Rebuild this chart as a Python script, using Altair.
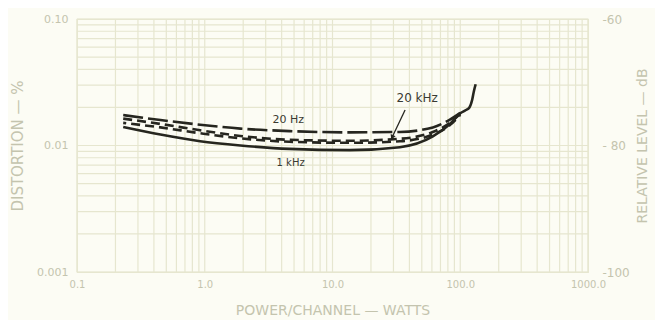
import altair as alt
import pandas as pd

# ---- data ----
power = [0.23, 0.45, 0.92, 1.9, 4.6, 13.7, 33.7, 61, 83, 100]
dist_20hz = [0.0174, 0.0159, 0.0146, 0.0136, 0.0130, 0.0127, 0.0128, 0.0139, 0.0160, 0.0181]
dist_20khz_a = [0.0163, 0.0148, 0.0132, 0.0119, 0.0111, 0.0109, 0.0113, 0.0128, 0.0151, 0.0178]
dist_20khz_b = [0.0151, 0.0139, 0.0125, 0.0114, 0.0107, 0.0105, 0.0108, 0.0122, 0.0145, 0.0175]
power_1khz = [0.23, 0.45, 0.92, 1.9, 4.6, 13.7, 33.7, 61, 83, 100, 110, 118, 124, 128, 132]
dist_1khz = [0.0140, 0.0122, 0.0108, 0.0100, 0.0094, 0.0092, 0.0097, 0.0118, 0.0148, 0.0180,
             0.0190, 0.0200, 0.0230, 0.0270, 0.0305]

x_grid = [0.1, 0.2, 0.3, 0.4, 0.5, 0.6, 0.7, 0.8, 0.9,
          1, 2, 3, 4, 5, 6, 7, 8, 9,
          10, 20, 30, 40, 50, 60, 70, 80, 90,
          100, 200, 300, 400, 500, 600, 700, 800, 900, 1000]
y_grid = [0.001, 0.002, 0.003, 0.004, 0.005, 0.006, 0.007, 0.008, 0.009,
          0.01, 0.02, 0.03, 0.04, 0.05, 0.06, 0.07, 0.08, 0.09, 0.1]
x_ticks = [0.1, 1, 10, 100, 1000]
y_ticks = [0.001, 0.01, 0.1]

label_text = ["20 Hz", "20 kHz", "1 kHz"]
label_x = [4.5, 46.0, 4.7]
label_y = [0.0159, 0.0237, 0.0073]
label_size = [11, 12, 10]

arrow_x = [37.0]
arrow_y = [0.0191]
arrow_x2 = [29.3]
arrow_y2 = [0.0116]

BG = "#fcfcf4"
GRID = "#e6e6cf"
TXT = "#c4c4ae"
INK = "#26261f"
FONT = "DejaVu Sans"

xs = alt.Scale(type="log", domain=[0.1, 1000], nice=False)
ys = alt.Scale(type="log", domain=[0.001, 0.1], nice=False)

x_axis = alt.Axis(values=x_ticks, format=".1f", grid=False, ticks=False, domain=False,
                  labelFlush=False,
                  labelColor=TXT, labelFont=FONT, labelFontSize=10, labelFontWeight="normal",
                  labelPadding=7, title="POWER/CHANNEL — WATTS", titleColor=TXT, titleFont=FONT,
                  titleFontSize=14, titleFontWeight="normal", titlePadding=14)
y_left = alt.Axis(orient="left", values=y_ticks, grid=False, ticks=False, domain=False,
                  labelExpr="datum.value >= 0.09 ? '0.10' : datum.value >= 0.009 ? '0.01' : '0.001'",
                  labelColor=TXT, labelFont=FONT, labelFontSize=11, labelFontWeight="normal",
                  labelPadding=9, title="DISTORTION — %", titleColor=TXT, titleFont=FONT,
                  titleFontSize=15, titleFontWeight="normal", titlePadding=11)
y_right = alt.Axis(orient="right", values=y_ticks, grid=False, ticks=False, domain=False,
                   labelExpr="datum.value >= 0.09 ? '-60' : datum.value >= 0.009 ? '- 80' : '-100'",
                   labelColor=TXT, labelFont=FONT, labelFontSize=12, labelFontWeight="normal",
                   labelPadding=14, title="RELATIVE LEVEL — dB", titleColor=TXT, titleFont=FONT,
                   titleFontSize=14, titleFontWeight="normal", titlePadding=20, titleAngle=270)

rows = []
for name, vals in [("20 Hz", dist_20hz), ("20 kHz A", dist_20khz_a), ("20 kHz B", dist_20khz_b)]:
    for p, d in zip(power, vals):
        rows.append({"series": name, "power": p, "dist": d})
for p, d in zip(power_1khz, dist_1khz):
    rows.append({"series": "1 kHz", "power": p, "dist": d})
curves = pd.DataFrame(rows)

xg = pd.DataFrame({"v": x_grid})
yg = pd.DataFrame({"v": y_grid})


def X(field):
    return alt.X(field, type="quantitative", scale=xs, axis=x_axis)


def Y(field):
    return alt.Y(field, type="quantitative", scale=ys, axis=y_left)


vgrid = alt.Chart(xg).mark_rule(color=GRID, strokeWidth=1.2).encode(x=X("v"))
hgrid = alt.Chart(yg).mark_rule(color=GRID, strokeWidth=1.2).encode(y=Y("v"))

base = alt.Chart(curves).encode(x=X("power"), y=Y("dist"))
l_20hz = base.transform_filter(alt.datum.series == "20 Hz").mark_line(
    color=INK, strokeWidth=2.6, strokeDash=[20, 5], interpolate="monotone")
l_a = base.transform_filter(alt.datum.series == "20 kHz A").mark_line(
    color=INK, strokeWidth=2.6, strokeDash=[9, 5], interpolate="monotone")
l_b = base.transform_filter(alt.datum.series == "20 kHz B").mark_line(
    color=INK, strokeWidth=2.6, strokeDash=[9, 5], strokeDashOffset=6, interpolate="monotone")
l_1k = base.transform_filter(alt.datum.series == "1 kHz").mark_line(
    color=INK, strokeWidth=2.6, interpolate="monotone")

labels = pd.DataFrame({"t": label_text, "x": label_x, "y": label_y, "s": label_size})
txt = alt.Chart(labels).mark_text(color="#3a3a32", font=FONT).encode(
    x=X("x"), y=Y("y"),
    text="t:N",
    size=alt.Size("s:Q", scale=None, legend=None),
)

arr = pd.DataFrame({"x": arrow_x, "y": arrow_y, "x2": arrow_x2, "y2": arrow_y2})
arrow_line = alt.Chart(arr).mark_rule(color=INK, strokeWidth=1.3).encode(
    x=X("x"), y=Y("y"), x2="x2:Q", y2="y2:Q",
)
arrow_head = alt.Chart(arr).mark_point(shape="triangle-up", filled=True, color=INK, size=30,
                                       opacity=1, angle=205).encode(
    x=X("x2"), y=Y("y2"),
)

main = alt.layer(vgrid, hgrid, l_20hz, l_a, l_b, l_1k, txt, arrow_line, arrow_head)

right = alt.Chart(yg).mark_rule(color=GRID, strokeWidth=1.2, opacity=0).encode(
    x=X("v"),
    y=alt.Y("v:Q", scale=ys, axis=y_right)
).transform_filter("false")

chart = alt.layer(main, right).resolve_scale(y="independent").properties(
    width=511, height=253,
    autosize=alt.AutoSizeParams(type="none"),
    padding={"left": 69, "top": 11, "right": 67, "bottom": 48},
    background=BG,
).configure_view(stroke=GRID, strokeWidth=1.2)

chart.save("out.html", embed_options={"renderer": "svg", "actions": False})
